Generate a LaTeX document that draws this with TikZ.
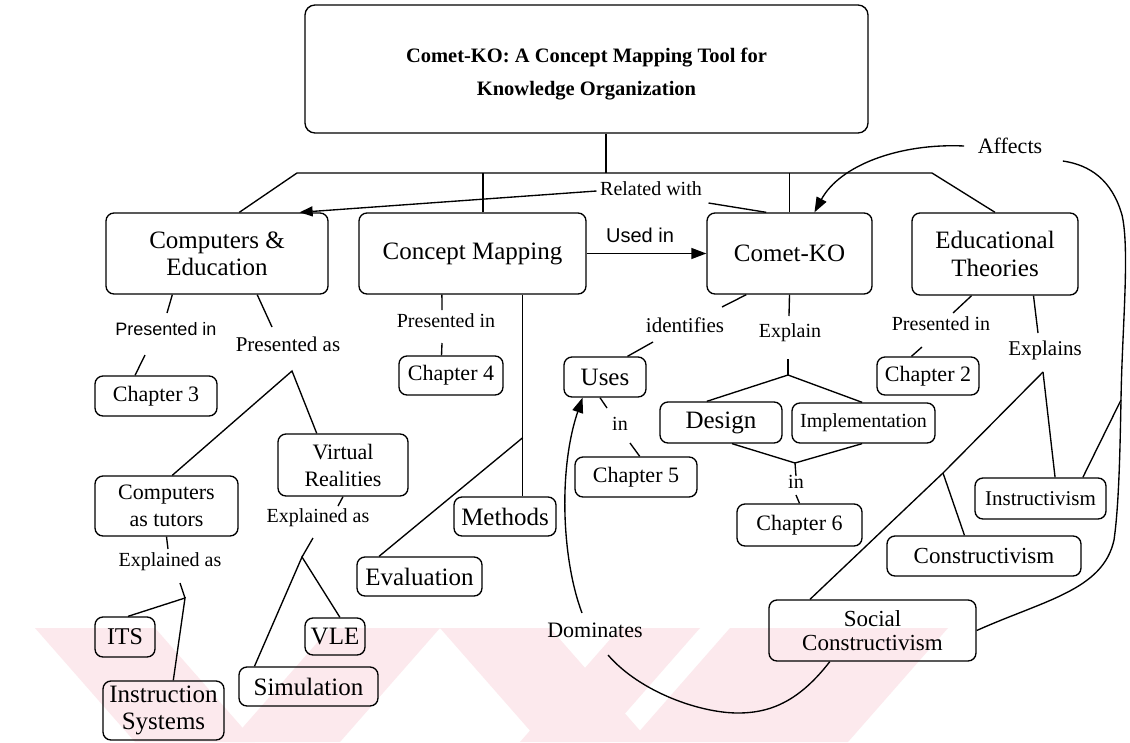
\documentclass[tikz,border=0pt]{standalone}
\usepackage{fontspec}
\setmainfont{Liberation Serif}
\newfontfamily\arialface{Liberation Sans}
\usetikzlibrary{calc,arrows.meta}
\definecolor{wmpink}{RGB}{252,233,237}
\newcommand\setfs[2]{\fontsize{#1}{#2}\selectfont}

\begin{document}
\begin{tikzpicture}[x=1pt, y=-1pt, line width=1.35pt,
  box/.style={draw, rounded corners=8pt, align=center, inner sep=0pt, font=\setfs{25}{27}},
  small/.style={font=\setfs{22}{27}},
  lbl/.style={inner sep=0pt, align=center, font=\setfs{20}{22}, text height=0.68em, text depth=0.2em},
  sanslbl/.style={lbl, font=\arialface\setfs{18}{20}},
  tip/.style={-{Triangle[length=15pt,width=11pt]}}]

% page and faint background emblem
\fill[white] (0,0) rectangle (1130,742);
\useasboundingbox (0,0) rectangle (1130,742);
\fill[wmpink] (35,628) -- (155,628) -- (255,742) -- (135,742) -- cycle;
\fill[wmpink] (330,628) -- (440,628) -- (340,742) -- (230,742) -- cycle;
\fill[wmpink] (440,628) -- (550,628) -- (650,742) -- (540,742) -- cycle;
\fill[wmpink] (620,628) -- (700,628) -- (600,742) -- (520,742) -- cycle;
\fill[wmpink] (730,628) -- (948,628) -- (848,742) -- (630,742) -- cycle;

% title
\node[draw, rounded corners=10pt, minimum width=563pt, minimum height=128pt, align=center,
      inner sep=0pt, font=\bfseries\setfs{20.5}{33}] (title) at (586.5,69)
  {\rule{0pt}{25pt}Comet-KO: A Concept Mapping Tool for\\Knowledge Organization};

% main concepts
\node[box, minimum width=222pt, minimum height=81pt] (ce) at (217,253.5) {Computers \&\\Education};
\node[box, minimum width=227pt, minimum height=81pt] (cm) at (472.5,253.5) {Concept Mapping};
\node[box, minimum width=165pt, minimum height=81pt] (ck) at (789.5,253.5) {Comet-KO};
\node[box, minimum width=166pt, minimum height=82pt, font=\setfs{25}{28}] (et) at (995,254) {Educational\\Theories};

% sub concepts
\node[box, small, minimum width=122pt, minimum height=40pt] (ch3) at (156,396) {Chapter 3};
\node[box, small, minimum width=143pt, minimum height=60pt] (cat) at (166.5,506) {Computers\\as tutors};
\node[box, small, minimum width=130pt, minimum height=62pt] (vr) at (343,465) {Virtual\\Realities};
\node[box, font=\setfs{24}{27}, minimum width=60pt, minimum height=40pt] (its) at (125,637) {ITS};
\node[box, minimum width=121pt, minimum height=59pt] (is) at (163.5,710.5) {Instruction\\Systems};
\node[box, minimum width=60pt, minimum height=37pt] (vle) at (335,636.5) {VLE};
\node[box, minimum width=139pt, minimum height=39pt] (sim) at (308.5,686.5) {Simulation};
\node[box, small, minimum width=104pt, minimum height=39pt] (ch4) at (451,375.5) {Chapter 4};
\node[box, minimum width=102pt, minimum height=39pt] (meth) at (505,516.5) {Methods};
\node[box, minimum width=125pt, minimum height=39pt] (eval) at (419.5,576.5) {Evaluation};
\node[box, minimum width=82pt, minimum height=40pt] (uses) at (605,377) {Uses};
\node[box, small, minimum width=122pt, minimum height=40pt] (ch5) at (636,477) {Chapter 5};
\node[box, minimum width=122pt, minimum height=41pt] (des) at (721,422.5) {Design};
\node[box, font=\setfs{20}{22}, minimum width=143pt, minimum height=40pt] (impl) at (863.5,423) {Implementation};
\node[box, small, minimum width=125pt, minimum height=42pt] (ch6) at (799.5,525) {Chapter 6};
\node[box, small, minimum width=102pt, minimum height=38pt] (ch2) at (928,376) {Chapter 2};
\node[box, font=\setfs{21}{23}, minimum width=131pt, minimum height=41pt] (instr) at (1040.5,498.5) {Instructivism};
\node[box, font=\setfs{23}{25}, minimum width=194pt, minimum height=40pt] (cons) at (984,556) {Constructivism};
\node[box, font=\setfs{23}{24}, minimum width=207pt, minimum height=61pt] (sc) at (872.5,630.5) {Social\\Constructivism};

% link labels
\node[lbl] (lrel) at (651,193) {Related with};
\node[lbl, font=\arialface\setfs{20}{22}] (lused) at (640,240) {Used in};
\node[lbl, font=\setfs{22}{24}] (laff) at (1010,151) {Affects};
\node[sanslbl] (lpi1) at (166,333) {Presented in};
\node[lbl, font=\setfs{21}{23}] (lpa) at (288,349) {Presented as};
\node[lbl] (lea1) at (170,564) {Explained as};
\node[lbl] (lea2) at (318,520) {Explained as};
\node[lbl] (lpi2) at (446,325) {Presented in};
\node[lbl, font=\setfs{21}{23}] (lid) at (685,330) {identifies};
\node[lbl] (lexp) at (790,335) {Explain};
\node[lbl] (lin1) at (620,428) {in};
\node[lbl] (lin2) at (796,486) {in};
\node[lbl] (lpi3) at (941,328) {Presented in};
\node[lbl, font=\setfs{21}{23}] (lexs) at (1045,353) {Explains};
\node[lbl, font=\setfs{22}{24}] (ldom) at (595,635) {Dominates};

% top level hub
\coordinate (hub) at (606,173);
\coordinate (hl) at (297,173);
\coordinate (hr) at (932,173);
\draw (title.south -| hub) -- (hub);
\draw ($(ce.north west)!.6!(ce.north east)$) -- (hl) -- (hr) -- (et.north);
\coordinate (cmT) at ($(cm.north west)!.546!(cm.north east)$);
\draw (cmT) -- (cmT |- hl);
\draw (ck.north) -- (ck.north |- hl);

% relations between the main concepts
\draw[-{Triangle[length=13pt,width=10pt]}] ($(lrel.west)+(-3,-2)$) -- ($(ce.north west)!.87!(ce.north east)$);
\draw ($(ck.north west)!.36!(ck.north east)$) -- ($(lrel.east)+(6,10)$);
\draw[tip] (cm.east) -- (ck.west);

% Affects
\coordinate (affJ) at (1121,400);
\draw (sc.east) .. controls (1045,600) and (1103,590) .. (1114,540)
  .. controls (1119,505) and (1120,450) .. (affJ)
  .. controls (1122,330) and (1130,250) .. (1122,215)
  .. controls (1112,180) and (1090,165) .. ($(laff.east)+(20,10)$);
\draw[tip] ($(laff.west)+(-13,-5)$) .. controls (900,143) and (840,165) .. ($(ck.north west)!.65!(ck.north east)$);
\draw ($(instr.north west)!.82!(instr.north east)$) -- (affJ);

% Computers & Education
\draw ($(ce.south west)!.3!(ce.south east)$) -- ($(lpi1)+(1,-20)$);
\draw ($(lpi1)+(-21,22)$) -- ($(ch3.north west)!.33!(ch3.north east)$);
\draw ($(ce.south west)!.68!(ce.south east)$) -- ($(lpa)+(-16,-22)$);
\coordinate (bpa) at ($(lpa)+(4,22)$);
\draw ($(cat.north west)!.54!(cat.north east)$) -- (bpa) -- ($(vr.north west)!.3!(vr.north east)$);
\draw (cat.south) -- ($(lea1)+(-2,-15)$);
\coordinate (bea1) at ($(lea1)+(15,34)$);
\draw ($(lea1)+(10,19)$) -- (bea1);
\draw ($(its.north west)!.55!(its.north east)$) -- (bea1) -- ($(is.north west)!.58!(is.north east)$);
\draw (vr.south) -- ($(lea2)+(20,-14)$);
\coordinate (bea2) at ($(lea2)+(-16,37)$);
\draw ($(lea2)+(-5,18)$) -- (bea2);
\draw ($(sim.north west)!.115!(sim.north east)$) -- (bea2) -- ($(vle.north west)!.58!(vle.north east)$);

% Concept Mapping
\draw ($(cm.south west)!.366!(cm.south east)$) -- ($(lpi2)+(-4,-15)$);
\draw ($(lpi2)+(-4,18)$) -- ($(ch4.north west)!.41!(ch4.north east)$);
\coordinate (cmB) at ($(cm.south west)!.72!(cm.south east)$);
\draw (cmB) -- (cmB |- meth.north);
\coordinate (cmJ) at ($(cmB)+(0,143)$);
\draw (cmJ) -- ($(eval.north west)!.18!(eval.north east)$);

% Comet-KO
\draw ($(ck.south west)!.24!(ck.south east)$) -- ($(lid)+(37,-23)$);
\draw ($(lid)+(-32,12)$) -- ($(uses.north west)!.77!(uses.north east)$);
\draw (ck.south) -- ($(lexp)+(-1,-19)$);
\coordinate (bexp) at ($(lexp)+(-2,40)$);
\draw ($(lexp)+(-2,24)$) -- (bexp);
\draw ($(des.north west)!.385!(des.north east)$) -- (bexp) -- ($(impl.north west)!.49!(impl.north east)$);
\coordinate (bin) at ($(lin2)+(-1,-23)$);
\draw ($(des.south west)!.59!(des.south east)$) -- (bin) -- ($(impl.south west)!.49!(impl.south east)$);
\draw (bin) -- ($(lin2)+(0,-10)$);
\draw ($(lin2)+(0,9)$) -- (ch6.north);
\draw ($(uses.south west)!.44!(uses.south east)$) -- ($(lin1)+(-13,-20)$);
\draw ($(lin1)+(10,15)$) -- ($(ch5.north west)!.53!(ch5.north east)$);

% Educational Theories
\draw ($(et.south west)!.36!(et.south east)$) -- ($(lpi3)+(12,-15)$);
\draw ($(lpi3)+(-19,19)$) -- ($(ch2.north west)!.34!(ch2.north east)$);
\draw ($(et.south west)!.73!(et.south east)$) -- ($(lexs)+(-7,-20)$);
\coordinate (bexs) at ($(lexs)+(-2,19)$);
\coordinate (jcons) at (943,473);
\draw (bexs) -- ($(instr.north west)!.61!(instr.north east)$);
\draw (bexs) -- (jcons) -- ($(sc.north west)!.2!(sc.north east)$);
\draw (jcons) -- ($(cons.north west)!.4!(cons.north east)$);

% Dominates
\draw ($(sc.south west)!.295!(sc.south east)$) .. controls (800,700) and (772,713) .. (738,713)
  .. controls (700,713) and (640,692) .. ($(ldom)+(13,20)$);
\draw[tip] ($(ldom)+(-13,-22)$) .. controls (562,560) and (558,470) .. ($(uses.south west)!.23!(uses.south east)$);
\end{tikzpicture}
\end{document}
